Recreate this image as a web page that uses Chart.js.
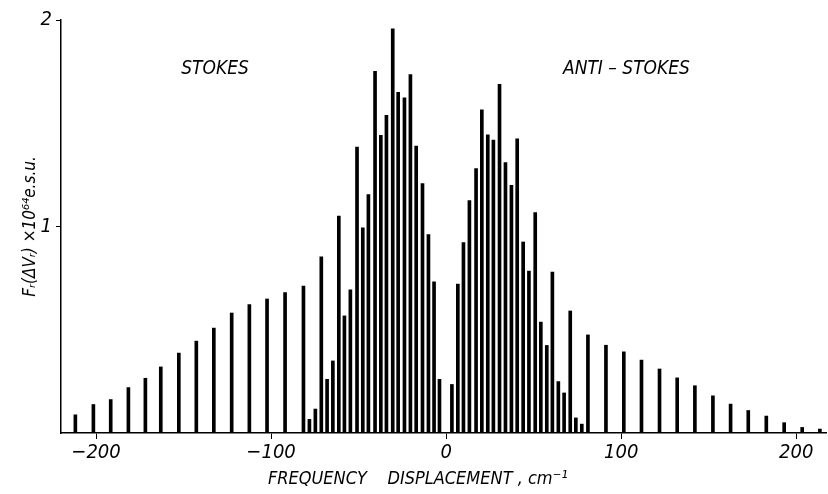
<!DOCTYPE html>
<html lang="en">

<head>
    <meta charset="UTF-8">
    <title>Rotational Raman spectrum</title>
    <script src="https://cdn.jsdelivr.net/npm/chart.js"></script>
    <style>
        body { margin: 0; background: #fff; }
        #wrap { width: 828px; height: 494px; }
    </style>
</head>

<body>
    <div id="wrap"><canvas id="myChart" width="828" height="494"></canvas></div>

    <script>
        // line positions, cm-1
        const freq = [
            -211.8, -201.5, -191.6, -181.5, -171.8, -163.0, -152.7, -142.7, -132.7, -122.5,
            -112.4, -102.3, -92.0, -81.5, -78.1, -74.7, -71.3, -68.0, -64.7, -61.3,
            -58.1, -54.7, -50.9, -47.6, -44.4, -40.6, -37.3, -34.1, -30.5, -27.4,
            -23.8, -20.4, -17.1, -13.5, -10.1, -6.9, -3.8,
            3.3, 6.7, 9.9, 13.3, 17.1, 20.4, 23.8, 27.0, 30.5, 33.9,
            37.3, 40.6, 44.0, 47.3, 50.9, 54.1, 57.5, 60.7, 64.1, 67.4,
            70.9, 74.1, 77.5, 81.0, 91.3, 101.5, 111.6, 121.9, 132.0, 142.1,
            152.4, 162.5, 172.6, 182.9, 193.1, 203.4, 213.5
        ];
        // intensity, x 10^64 e.s.u.
        const intensity = [
            0.088, 0.138, 0.162, 0.220, 0.265, 0.320, 0.387, 0.445, 0.508, 0.581,
            0.622, 0.649, 0.680, 0.711, 0.066, 0.116, 0.853, 0.260, 0.349, 1.050,
            0.567, 0.693, 1.385, 0.993, 1.155, 1.752, 1.442, 1.538, 1.957, 1.650,
            1.623, 1.736, 1.389, 1.208, 0.961, 0.732, 0.260,
            0.235, 0.721, 0.922, 1.126, 1.281, 1.565, 1.444, 1.418, 1.689, 1.310,
            1.199, 1.424, 0.925, 0.784, 1.068, 0.537, 0.424, 0.779, 0.249, 0.194,
            0.591, 0.073, 0.043, 0.475, 0.425, 0.393, 0.353, 0.310, 0.267, 0.229,
            0.180, 0.140, 0.109, 0.082, 0.050, 0.027, 0.019
        ];
        const xTicks = [-200, -100, 0, 100, 200];
        const yTicks = [1, 2];
        const notes = [
            { text: 'STOKES', x: -132, y: 1.76 },
            { text: 'ANTI \u2013 STOKES', x: 103, y: 1.76 }
        ];

        const FONT = "'Liberation Sans Narrow', 'DejaVu Sans Condensed', sans-serif";

        // side labels placed in data units
        const notesPlugin = {
            id: 'notes',
            afterDraw(chart) {
                const ctx = chart.ctx;
                const sx = chart.scales.x, sy = chart.scales.y;
                ctx.save();
                ctx.fillStyle = '#000';
                ctx.font = 'italic 19px ' + FONT;
                ctx.textAlign = 'center';
                ctx.textBaseline = 'middle';
                notes.forEach(n => {
                    ctx.fillText(n.text, sx.getPixelForValue(n.x), sy.getPixelForValue(n.y));
                });
                ctx.restore();
            }
        };

        chartIt()
        function chartIt() {
            const ctx = document.getElementById('myChart');

            new Chart(ctx, {
                type: 'bar',
                data: {
                    datasets: [{
                        data: freq.map((f, i) => ({ x: f, y: intensity[i] })),
                        backgroundColor: '#000',
                        borderWidth: 0,
                        barThickness: 3,
                    }]
                },
                options: {
                    responsive: false,
                    animation: false,
                    layout: { padding: { top: 20, right: 2, left: 0, bottom: 0 } },
                    plugins: {
                        legend: { display: false },
                        tooltip: { enabled: false }
                    },
                    scales: {
                        x: {
                            type: 'linear',
                            offset: false,
                            min: -220,
                            max: 217,
                            afterBuildTicks: s => { s.ticks = xTicks.map(v => ({ value: v })); },
                            afterFit: s => { s.height = 61; },
                            grid: { drawOnChartArea: false, color: '#000', tickLength: 6, offset: false },
                            border: { color: '#000', width: 1.5 },
                            ticks: {
                                color: '#000',
                                padding: 2,
                                maxRotation: 0,
                                font: { family: FONT, size: 20, style: 'italic' },
                                callback: v => (v < 0 ? '\u2212' + Math.abs(v) : String(v))
                            },
                            title: {
                                display: true,
                                text: 'FREQUENCY    DISPLACEMENT , cm\u207B\u00B9          ',
                                color: '#000',
                                padding: { top: 0, bottom: 4 },
                                font: { family: FONT, size: 18, style: 'italic' }
                            }
                        },
                        y: {
                            min: 0,
                            max: 2,
                            afterBuildTicks: s => { s.ticks = yTicks.map(v => ({ value: v })); },
                            afterFit: s => { s.width = 61; },
                            grid: { drawOnChartArea: false, color: '#000', tickLength: 5 },
                            border: { color: '#000', width: 1.5 },
                            ticks: {
                                color: '#000',
                                padding: 4,
                                font: { family: FONT, size: 20, style: 'italic' }
                            },
                            title: {
                                display: true,
                                text: 'F\u1D63(\u0394V\u1D63) \u00D710\u2076\u2074e.s.u.',
                                color: '#000',
                                padding: { top: 20, bottom: 4 },
                                font: { family: FONT, size: 17, style: 'italic' }
                            }
                        }
                    }
                },
                plugins: [notesPlugin]
            });
        }
    </script>
</body>

</html>
